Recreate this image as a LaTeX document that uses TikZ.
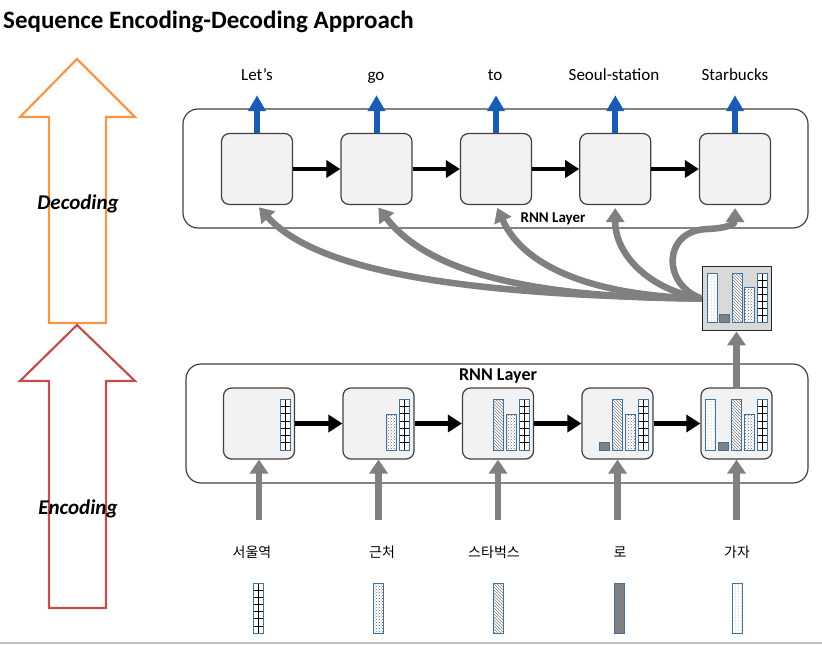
\documentclass[tikz,border=0pt]{standalone}
\usepackage{fontspec}
\setmainfont{Carlito}
\newfontfamily\korfont{Noto Sans CJK KR}
\usetikzlibrary{arrows.meta,patterns}

\definecolor{cellfill}{HTML}{F2F2F2}
\definecolor{edge}{HTML}{404040}
\definecolor{barblue}{HTML}{41719C}
\definecolor{outblue}{HTML}{1A5BB5}
\definecolor{flowgray}{HTML}{808080}
\definecolor{decorange}{HTML}{F79646}
\definecolor{encred}{HTML}{C0504D}
\definecolor{ctxfill}{HTML}{D9D9D9}

\tikzset{
	cell/.style={draw=edge, fill=cellfill, line width=1.2pt, rounded corners=8pt, minimum width=71pt, minimum height=71pt, inner sep=0pt},
	ctxbox/.style={draw=black!85, fill=ctxfill, line width=1.8pt, minimum width=69pt, minimum height=64pt, inner sep=0pt},
	layer/.style={draw=edge, line width=1.2pt, rounded corners=15pt},
	bigarrow/.style={line width=2.2pt, line join=miter},
	flow/.style={line width=4.5pt, -{Triangle[length=14pt,width=17pt]}},
	outflow/.style={draw=outblue, line width=6pt, -{Triangle[length=16pt,width=17pt]}, shorten >=11pt},
	inflow/.style={draw=flowgray, line width=6.5pt, -{Triangle[length=14pt,width=18pt]}},
	phase/.style={font=\bfseries\itshape\fontsize{21}{24}\selectfont, inner sep=0pt},
	word/.style={font=\fontsize{17}{20}\selectfont, inner sep=0pt, text height=12pt, text depth=4pt},
	kor/.style={font=\korfont\fontsize{14}{16}\selectfont, inner sep=0pt, text height=11pt, text depth=3pt},
	tag/.style={font=\bfseries\fontsize{#1}{#1}\selectfont, inner sep=0pt},
	barframe/.style={draw=barblue, line width=1pt},
	gridline/.style={draw=black, line width=0.6pt}
}

\newcommand{\barbox}[3]{\draw[barframe] (#1,#2) rectangle (#1+10,#3);}
\newcommand{\gridcol}[3]{%
	\fill[white] (#1,#2) rectangle (#1+10,#3);
	\foreach \k in {1,...,6}
		\draw[gridline] (#1,{#2+\k*(#3-#2)/7}) -- (#1+10,{#2+\k*(#3-#2)/7});
	\draw[gridline] (#1+5,#2) -- (#1+5,#3);
	\barbox{#1}{#2}{#3}}
\newcommand{\dotcol}[3]{%
	\fill[white] (#1,#2) rectangle (#1+10,#3);
	\fill[pattern=crosshatch dots, pattern color=black!60] (#1,#2) rectangle (#1+10,#3);
	\barbox{#1}{#2}{#3}}
\newcommand{\lightcol}[3]{%
	\fill[white] (#1,#2) rectangle (#1+10,#3);
	\fill[pattern=dots, pattern color=gray!80] (#1,#2) rectangle (#1+10,#3);
	\barbox{#1}{#2}{#3}}
\newcommand{\hatchcol}[3]{%
	\fill[white] (#1,#2) rectangle (#1+10,#3);
	\fill[pattern=north west lines, pattern color=gray] (#1,#2) rectangle (#1+10,#3);
	\barbox{#1}{#2}{#3}}
\newcommand{\darkcol}[3]{%
	\fill[black!50] (#1,#2) rectangle (#1+10,#3);
	\barbox{#1}{#2}{#3}}

\begin{document}
\begin{tikzpicture}[x=1pt,y=-1pt]
	\useasboundingbox (0,0) rectangle (822,645);
	\node[anchor=base west, font=\bfseries\fontsize{25}{29}\selectfont, inner sep=0pt] (title) at (3,28) {Sequence Encoding-Decoding Approach};

	\draw[bigarrow, draw=decorange] (77,59) -- (135,117) -- (106,117) -- (106,323) -- (49,323) -- (49,117) -- (20,117) -- cycle;
	\draw[bigarrow, draw=encred] (77,325) -- (135,381) -- (106,381) -- (106,608) -- (49,608) -- (49,381) -- (20,381) -- cycle;
	\node[phase] (decoding) at (78,204) {Decoding};
	\node[phase] (encoding) at (78,509) {Encoding};

	\draw[layer] (183,109) rectangle (808,228);
	\draw[layer] (186,364) rectangle (808,483);
	\node[tag=15] (declayer) at (553,219) {RNN Layer};
	\node[tag=18] (enclayer) at (498,376) {RNN Layer};

	\foreach \n/\x in {1/257,2/376.5,3/496,4/615.3,5/735}
		\node[cell] (dec\n) at (\x,169) {};
	\foreach \n/\x in {1/259,2/378.5,3/498,4/617.5,5/736.5}
		\node[cell] (enc\n) at (\x,423.5) {};
	\foreach \a/\b in {1/2,2/3,3/4,4/5}{
		\draw[flow] (dec\a) -- (dec\b);
		\draw[flow] (enc\a) -- (enc\b);
	}

	\foreach \n/\x/\w in {1/257/Let’s,2/376/go,3/495/to,4/614/Seoul-station,5/735/Starbucks}{
		\node[word] (out\n) at (\x,76) {\w};
		\draw[outflow] (dec\n.north) -- (dec\n.north |- out\n.south);
	}

	\foreach \n/\x/\w in {1/252/서울역,2/382/근처,3/494/스타벅스,4/620/로,5/737/가자}{
		\node[kor] (in\n) at (\x,553) {\w};
		\draw[inflow, shorten <=26pt] (enc\n.south |- in\n.north) -- (enc\n.south);
	}

	\node[ctxbox] (ctx) at (737,298.5) {};
	\draw[inflow] (enc5.north) -- (enc5.north |- ctx.south);
	\draw[inflow, shorten >=3pt] (ctx.west) .. controls (480,295) and (320,275) .. (dec1.south);
	\draw[inflow, shorten >=3pt] (ctx.west) .. controls (540,298) and (430,275) .. (dec2.south);
	\draw[inflow, shorten >=3pt] (ctx.west) .. controls (600,296) and (525,270) .. (dec3.south);
	\draw[inflow, shorten >=3pt] (ctx.west) .. controls (650,290) and (615,255) .. (dec4.south);
	\draw[inflow, shorten >=3pt] (ctx.west) .. controls (662,285) and (662,230) .. (708,229) .. controls (728,228) and (735,224) .. (dec5.south);

	\lightcol{707}{273}{322}
	\darkcol{719}{314}{322}
	\hatchcol{732}{273}{322}
	\dotcol{744}{287}{322}
	\gridcol{757}{273}{322}

	\gridcol{280}{399}{450}
	\dotcol{386.5}{414}{450}
	\gridcol{399.5}{399}{450}
	\hatchcol{493}{399}{450}
	\dotcol{506}{414}{450}
	\gridcol{519}{399}{450}
	\darkcol{599.5}{442}{450}
	\hatchcol{612.5}{399}{450}
	\dotcol{625.5}{414}{450}
	\gridcol{638.5}{399}{450}
	\lightcol{705.5}{399}{450}
	\darkcol{718.5}{442}{450}
	\hatchcol{731.5}{399}{450}
	\dotcol{744.5}{414}{450}
	\gridcol{757.5}{399}{450}

	\gridcol{253.5}{583}{633}
	\dotcol{373.5}{583}{633}
	\hatchcol{493.5}{583}{633}
	\darkcol{614}{583}{633}
	\lightcol{732}{583}{633}

	\draw[gray!50, line width=1.5pt] (0,643) -- (822,643);
\end{tikzpicture}
\end{document}
